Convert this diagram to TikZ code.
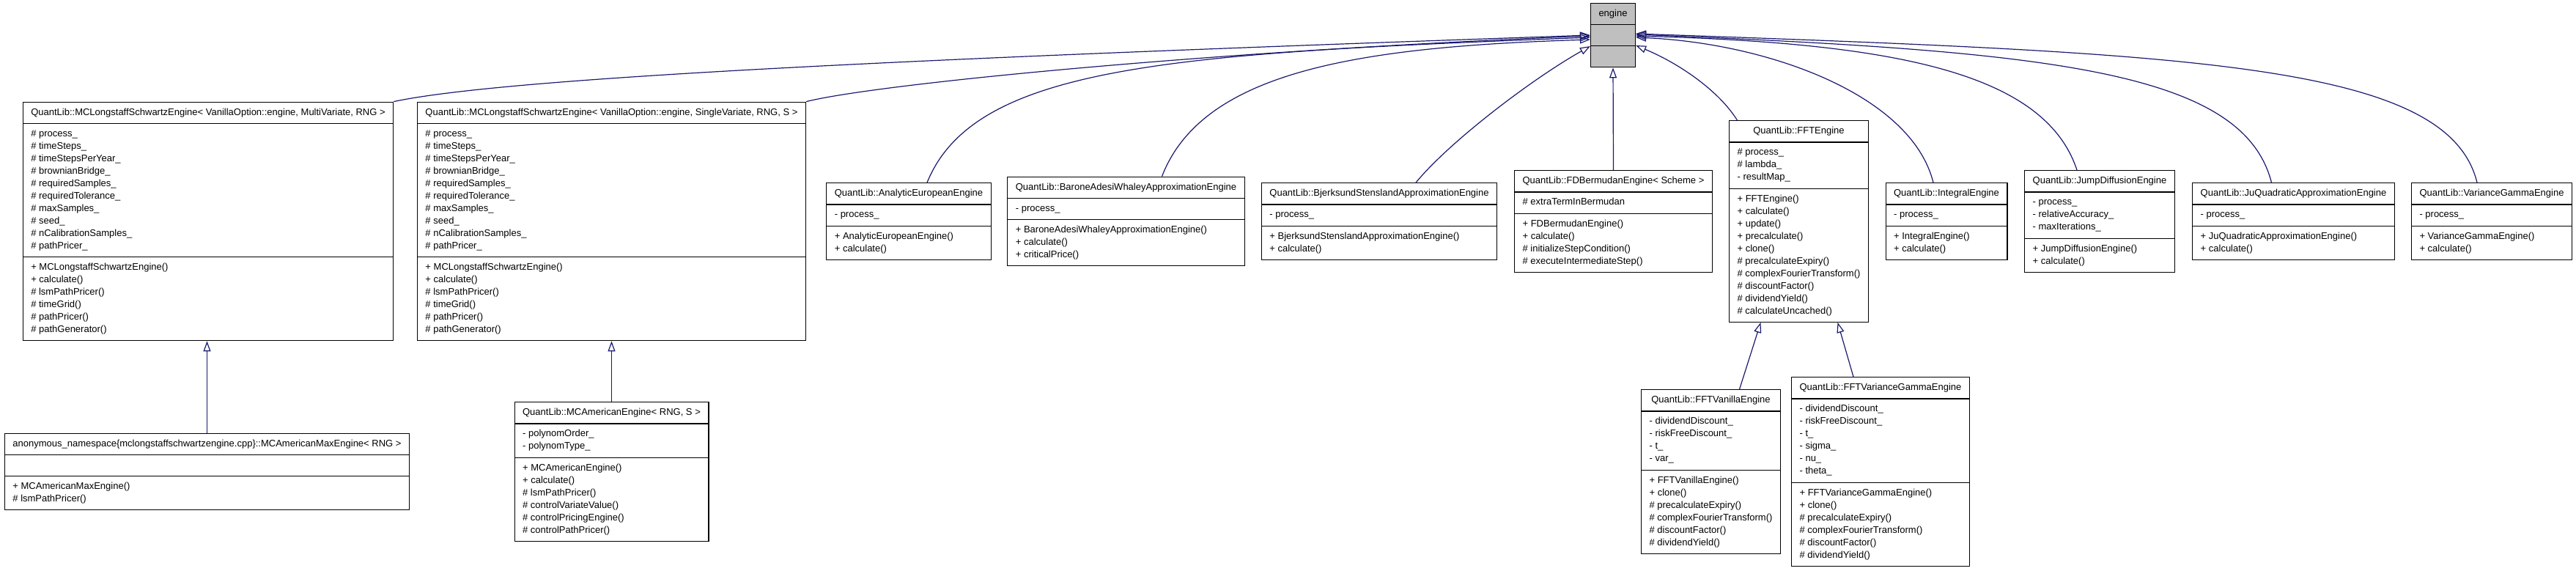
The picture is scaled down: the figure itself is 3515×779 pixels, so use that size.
\documentclass[tikz,border=0pt]{standalone}
\usepackage{fontspec}
\setmainfont{Liberation Sans}
\usetikzlibrary{shapes.multipart, arrows.meta}
\definecolor{edgeblue}{HTML}{191970}
\definecolor{basegrey}{HTML}{BFBFBF}
\newcommand{\mtitle}[1]{\begin{tabular}{@{}c@{}}#1\end{tabular}}
\newcommand{\mlist}[1]{\begin{tabular}{@{}l@{}}#1\end{tabular}}

\begin{document}
\begin{tikzpicture}[x=1pt, y=-1pt,
    classbox/.style={rectangle split, rectangle split parts=3, draw=black, line width=1.2pt,
        fill=white, inner xsep=11pt, inner ysep=5.5pt,
        rectangle split part align={center,left,left}, font=\fontsize{13}{17}\selectfont},
    basebox/.style={classbox, fill=basegrey},
    inherit/.style={draw=edgeblue, line width=1.2pt, -{Triangle[open, length=14pt, width=10pt]}}]
    \useasboundingbox (0,0) rectangle (3515,779);
    % Base class
    \node[basebox] (engine) at (2201,48) {\mtitle{engine}\nodepart{two}\mlist{\mbox{}}\nodepart{three}\mlist{\mbox{}}};
    % Row 1
    \node[classbox] (mclsMulti) at (284,302) {\mtitle{QuantLib::MCLongstaffSchwartzEngine< VanillaOption::engine, MultiVariate, RNG >}
        \nodepart{two}\mlist{\# process\_\\ \# timeSteps\_\\ \# timeStepsPerYear\_\\ \# brownianBridge\_\\ \# requiredSamples\_\\ \# requiredTolerance\_\\ \# maxSamples\_\\ \# seed\_\\ \# nCalibrationSamples\_\\ \# pathPricer\_}
        \nodepart{three}\mlist{+ MCLongstaffSchwartzEngine()\\ + calculate()\\ \# lsmPathPricer()\\ \# timeGrid()\\ \# pathPricer()\\ \# pathGenerator()}};
    \node[classbox] (mclsSingle) at (834.5,302) {\mtitle{QuantLib::MCLongstaffSchwartzEngine< VanillaOption::engine, SingleVariate, RNG, S >}
        \nodepart{two}\mlist{\# process\_\\ \# timeSteps\_\\ \# timeStepsPerYear\_\\ \# brownianBridge\_\\ \# requiredSamples\_\\ \# requiredTolerance\_\\ \# maxSamples\_\\ \# seed\_\\ \# nCalibrationSamples\_\\ \# pathPricer\_}
        \nodepart{three}\mlist{+ MCLongstaffSchwartzEngine()\\ + calculate()\\ \# lsmPathPricer()\\ \# timeGrid()\\ \# pathPricer()\\ \# pathGenerator()}};
    \node[classbox] (analyticEuropean) at (1240,302) {\mtitle{QuantLib::AnalyticEuropeanEngine}
        \nodepart{two}\mlist{- process\_}
        \nodepart{three}\mlist{+ AnalyticEuropeanEngine()\\ + calculate()}};
    \node[classbox] (baroneAdesi) at (1536.5,302) {\mtitle{QuantLib::BaroneAdesiWhaleyApproximationEngine}
        \nodepart{two}\mlist{- process\_}
        \nodepart{three}\mlist{+ BaroneAdesiWhaleyApproximationEngine()\\ + calculate()\\ + criticalPrice()}};
    \node[classbox] (bjerksund) at (1882,302) {\mtitle{QuantLib::BjerksundStenslandApproximationEngine}
        \nodepart{two}\mlist{- process\_}
        \nodepart{three}\mlist{+ BjerksundStenslandApproximationEngine()\\ + calculate()}};
    \node[classbox] (fdBermudan) at (2201.5,302) {\mtitle{QuantLib::FDBermudanEngine< Scheme >}
        \nodepart{two}\mlist{\# extraTermInBermudan}
        \nodepart{three}\mlist{+ FDBermudanEngine()\\ + calculate()\\ \# initializeStepCondition()\\ \# executeIntermediateStep()}};
    \node[classbox] (fftEngine) at (2454.5,302) {\mtitle{QuantLib::FFTEngine}
        \nodepart{two}\mlist{\# process\_\\ \# lambda\_\\ - resultMap\_}
        \nodepart{three}\mlist{+ FFTEngine()\\ + calculate()\\ + update()\\ + precalculate()\\ + clone()\\ \# precalculateExpiry()\\ \# complexFourierTransform()\\ \# discountFactor()\\ \# dividendYield()\\ \# calculateUncached()}};
    \node[classbox] (integralEngine) at (2656,302) {\mtitle{QuantLib::IntegralEngine}
        \nodepart{two}\mlist{- process\_}
        \nodepart{three}\mlist{+ IntegralEngine()\\ + calculate()}};
    \node[classbox] (jumpDiffusion) at (2865,302) {\mtitle{QuantLib::JumpDiffusionEngine}
        \nodepart{two}\mlist{- process\_\\ - relativeAccuracy\_\\ - maxIterations\_}
        \nodepart{three}\mlist{+ JumpDiffusionEngine()\\ + calculate()}};
    \node[classbox] (juQuadratic) at (3129.5,302) {\mtitle{QuantLib::JuQuadraticApproximationEngine}
        \nodepart{two}\mlist{- process\_}
        \nodepart{three}\mlist{+ JuQuadraticApproximationEngine()\\ + calculate()}};
    \node[classbox] (varianceGamma) at (3400,302) {\mtitle{QuantLib::VarianceGammaEngine}
        \nodepart{two}\mlist{- process\_}
        \nodepart{three}\mlist{+ VarianceGammaEngine()\\ + calculate()}};
    % Row 2
    \node[classbox] (maxEngine) at (282.5,643.5) {\mtitle{anonymous\_namespace\{mclongstaffschwartzengine.cpp\}::MCAmericanMaxEngine< RNG >}
        \nodepart{two}\mlist{\mbox{}}
        \nodepart{three}\mlist{+ MCAmericanMaxEngine()\\ \# lsmPathPricer()}};
    \node[classbox] (americanEngine) at (834.5,643.5) {\mtitle{QuantLib::MCAmericanEngine< RNG, S >}
        \nodepart{two}\mlist{- polynomOrder\_\\ - polynomType\_}
        \nodepart{three}\mlist{+ MCAmericanEngine()\\ + calculate()\\ \# lsmPathPricer()\\ \# controlVariateValue()\\ \# controlPricingEngine()\\ \# controlPathPricer()}};
    \node[classbox] (fftVanilla) at (2334.5,643.5) {\mtitle{QuantLib::FFTVanillaEngine}
        \nodepart{two}\mlist{- dividendDiscount\_\\ - riskFreeDiscount\_\\ - t\_\\ - var\_}
        \nodepart{three}\mlist{+ FFTVanillaEngine()\\ + clone()\\ \# precalculateExpiry()\\ \# complexFourierTransform()\\ \# discountFactor()\\ \# dividendYield()}};
    \node[classbox] (fftVarianceGamma) at (2566,643.5) {\mtitle{QuantLib::FFTVarianceGammaEngine}
        \nodepart{two}\mlist{- dividendDiscount\_\\ - riskFreeDiscount\_\\ - t\_\\ - sigma\_\\ - nu\_\\ - theta\_}
        \nodepart{three}\mlist{+ FFTVarianceGammaEngine()\\ + clone()\\ \# precalculateExpiry()\\ \# complexFourierTransform()\\ \# discountFactor()\\ \# dividendYield()}};
    % Inheritance, left of engine
    \draw[inherit] (mclsMulti.north east) .. controls +(159,-34) and +(-871,30) .. (engine.west);
    \draw[inherit] (mclsSingle.north east) .. controls +(96,-24) and +(-521,21) .. ([yshift=-1pt]engine.west);
    \draw[inherit] ([xshift=25pt]analyticEuropean.north) .. controls +(65,-160) and +(-571,22) .. ([yshift=-3pt]engine.west);
    \draw[inherit] ([xshift=49pt]baroneAdesi.north) .. controls +(55,-142) and +(-321,10) .. ([yshift=-6pt]engine.west);
    \draw[inherit] ([xshift=50pt]bjerksund.north) .. controls +(45,-55) and +(-80,45) .. ([yshift=-15pt]engine.west);
    % Inheritance, below and right of engine
    \draw[inherit] (fdBermudan.north) -- (engine.south);
    \draw[inherit] ([xshift=-84pt]fftEngine.north) .. controls +(-25,-40) and +(60,25) .. ([yshift=-14pt]engine.east);
    \draw[inherit] ([xshift=-18pt]integralEngine.north) .. controls +(-30,-120) and +(180,8) .. ([yshift=-3pt]engine.east);
    \draw[inherit] ([xshift=-31pt]jumpDiffusion.north) .. controls +(-44,-134) and +(350,10) .. ([yshift=-1pt]engine.east);
    \draw[inherit] ([xshift=-30pt]juQuadratic.north) .. controls +(-39,-152) and +(569,23) .. ([yshift=1pt]engine.east);
    \draw[inherit] ([xshift=-20pt]varianceGamma.north) .. controls +(-40,-162) and +(769,27) .. ([yshift=2pt]engine.east);
    % Second level
    \draw[inherit] (maxEngine.north) -- (maxEngine.north |- mclsMulti.south);
    \draw[inherit] (americanEngine.north) -- (americanEngine.north |- mclsSingle.south);
    \draw[inherit] ([xshift=39pt]fftVanilla.north) -- ([xshift=-52pt]fftEngine.south);
    \draw[inherit] ([xshift=-37pt]fftVarianceGamma.north) -- ([xshift=53pt]fftEngine.south);
\end{tikzpicture}
\end{document}
